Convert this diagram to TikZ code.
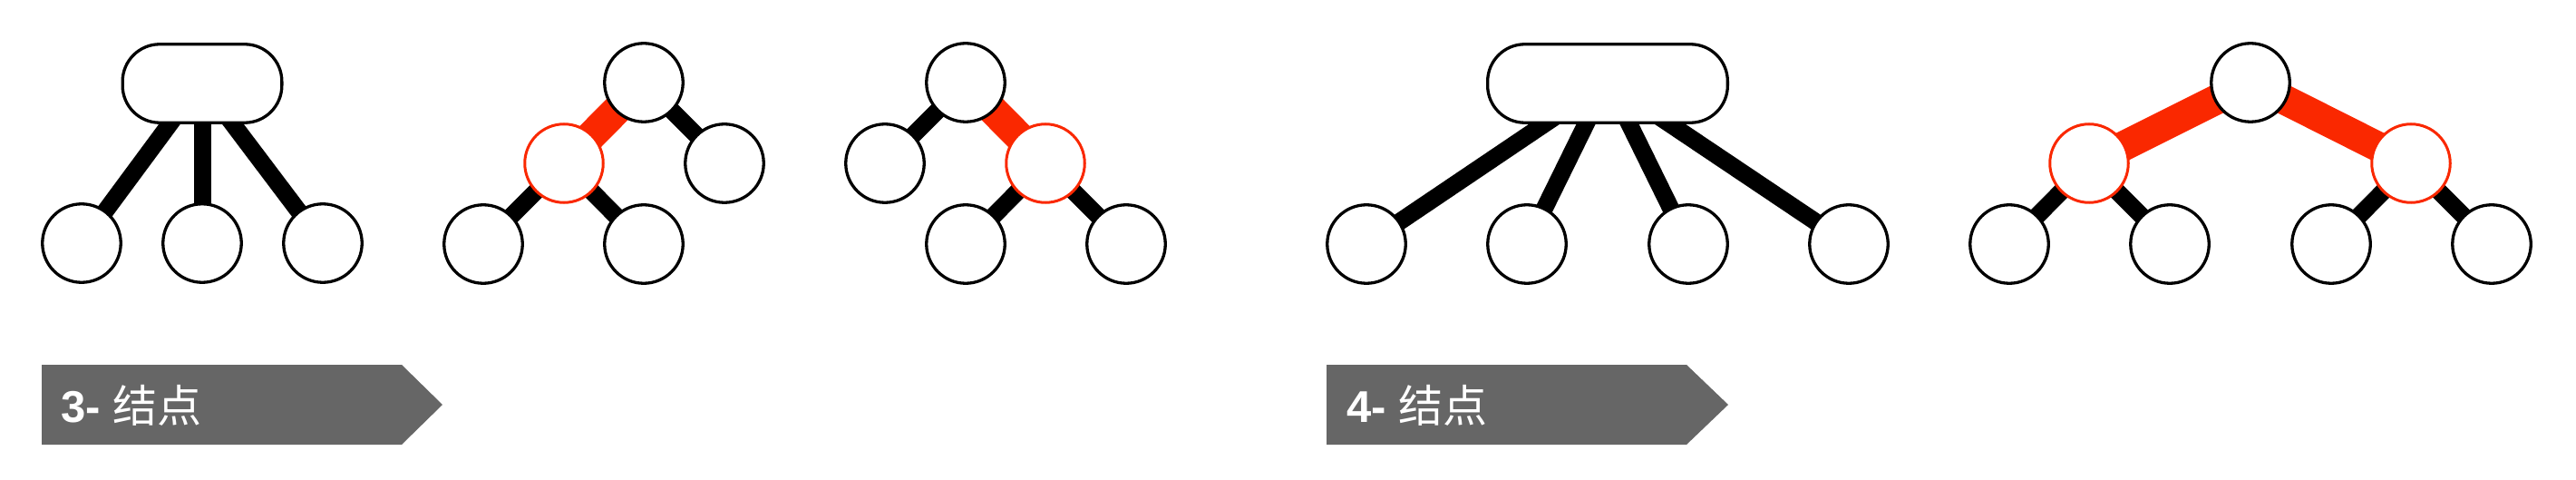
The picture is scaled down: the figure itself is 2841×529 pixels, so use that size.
\documentclass[tikz,border=0pt]{standalone}
\usepackage{fontspec}
\setmainfont{Liberation Sans}
\newfontfamily\cjk{Noto Sans CJK SC}
\usetikzlibrary{calc,backgrounds}
\definecolor{hl}{RGB}{250,40,0}
\definecolor{tag}{RGB}{102,102,102}
\tikzset{
  nd/.style={circle,draw=black,line width=3.3pt,fill=white,minimum size=86.5pt,inner sep=0pt},
  rnd/.style={nd,draw=hl,line width=3pt},
  pill/.style={rectangle,rounded corners=41pt,draw=black,line width=3.3pt,fill=white,inner sep=0pt,minimum height=86.5pt},
  edge/.style={line width=19pt,black},
  redge/.style={line width=33pt,hl},
  fromtop/.style={edge,shorten <=-22pt},
  tagbox/.style={fill=tag},
  tagtext/.style={text=white,inner sep=0pt,anchor=base west,font=\fontsize{49}{49}\selectfont}
}
\begin{document}
\begin{tikzpicture}[x=1pt,y=-1pt]
\useasboundingbox (0,0) rectangle (2841,529);
% ---- tree A: 3-node ----
\node[pill,minimum width=175.7pt] (a0) at (223,92) {};
\node[nd] (a1) at (90,268) {};
\node[nd] (a2) at (223,268) {};
\node[nd] (a3) at (356,268) {};
\coordinate (a0l) at ($(a0.south)+(-36,0)$);
\coordinate (a0m) at (a0.south);
\coordinate (a0r) at ($(a0.south)+(34,0)$);
% ---- tree B ----
\node[nd] (b0) at (710,91) {};
\node[rnd] (b1) at (622,180) {};
\node[nd] (b2) at (799,180) {};
\node[nd] (b3) at (533,269) {};
\node[nd] (b4) at (710,269) {};
% ---- tree C ----
\node[nd] (c0) at (1065,91) {};
\node[nd] (c1) at (976,180) {};
\node[rnd] (c2) at (1153,180) {};
\node[nd] (c3) at (1065,269) {};
\node[nd] (c4) at (1242,269) {};
% ---- tree D: 4-node ----
\node[pill,minimum width=264.7pt] (d0) at (1773,92) {};
\node[nd] (d1) at (1507,269) {};
\node[nd] (d2) at (1684,269) {};
\node[nd] (d3) at (1862,269) {};
\node[nd] (d4) at (2039,269) {};
\coordinate (d0a) at ($(d0.south)+(-70,0)$);
\coordinate (d0b) at ($(d0.south)+(-24,0)$);
\coordinate (d0c) at ($(d0.south)+(24,0)$);
\coordinate (d0d) at ($(d0.south)+(69,0)$);
% ---- tree E ----
\node[nd] (e0) at (2482,91) {};
\node[rnd] (e1) at (2304,180) {};
\node[rnd] (e2) at (2659,180) {};
\node[nd] (e3) at (2216,269) {};
\node[nd] (e4) at (2393,269) {};
\node[nd] (e5) at (2571,269) {};
\node[nd] (e6) at (2748,269) {};
% ---- connectors ----
\begin{scope}[on background layer]
\draw[fromtop] (a0l) -- (a1.center);
\draw[fromtop] (a0m) -- (a2.center);
\draw[fromtop] (a0r) -- (a3.center);
\draw[redge] (b0.center) -- (b1.center);
\draw[edge] (b0.center) -- (b2.center);
\draw[edge] (b1.center) -- (b3.center);
\draw[edge] (b1.center) -- (b4.center);
\draw[edge] (c0.center) -- (c1.center);
\draw[redge] (c0.center) -- (c2.center);
\draw[edge] (c2.center) -- (c3.center);
\draw[edge] (c2.center) -- (c4.center);
\draw[fromtop] (d0a) -- (d1.center);
\draw[fromtop] (d0b) -- (d2.center);
\draw[fromtop] (d0c) -- (d3.center);
\draw[fromtop] (d0d) -- (d4.center);
\draw[redge] (e0.center) -- (e1.center);
\draw[redge] (e0.center) -- (e2.center);
\draw[edge] (e1.center) -- (e3.center);
\draw[edge] (e1.center) -- (e4.center);
\draw[edge] (e2.center) -- (e5.center);
\draw[edge] (e2.center) -- (e6.center);
\end{scope}
% ---- labels ----
\fill[tagbox] (46,402) -- (443,402) -- (488,446) -- (443,490) -- (46,490) -- cycle;
\node[tagtext] (t1) at (67,465) {\textbf{3-} {\cjk 结点}};
\fill[tagbox] (1463,402) -- (1860,402) -- (1906,446) -- (1860,490) -- (1463,490) -- cycle;
\node[tagtext] (t2) at (1485,465) {\textbf{4-} {\cjk 结点}};
\end{tikzpicture}
\end{document}
